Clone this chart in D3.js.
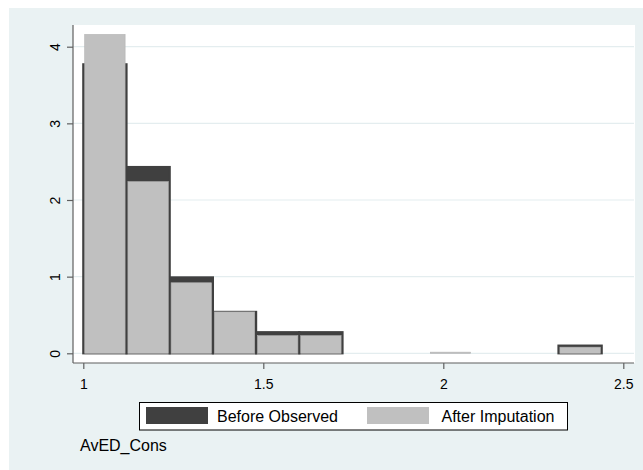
<!DOCTYPE html>
<html>
<head>
<meta charset="utf-8">
<script src="https://cdn.jsdelivr.net/npm/d3@7"></script>
<style>
  html, body { margin: 0; padding: 0; background: #ffffff; }
  svg { display: block; font-family: "Liberation Sans", Arial, Helvetica, sans-serif; }
</style>
</head>
<body>
<svg id="chart" width="643" height="470"></svg>
<script>
// Histogram bins of AvED_Cons (lower edges), common width
const binLower = [1.00, 1.12, 1.24, 1.36, 1.48, 1.60, 1.72, 1.84, 1.96, 2.08, 2.20, 2.32];
const binWidth = 0.12;
// Densities per bin
const observedDensity = [3.77, 2.43, 0.99, 0.54, 0.275, 0.275, 0, 0, 0, 0, 0, 0.10];
const imputedDensity  = [4.16, 2.24, 0.92, 0.54, 0.23, 0.23, 0, 0, 0.015, 0, 0, 0.08];
// Axis ticks and labels
const xTicks = [1, 1.5, 2, 2.5];
const yTicks = [0, 1, 2, 3, 4];
const seriesNames = ["Before Observed", "After Imputation"];
const xTitle = "AvED_Cons";

const svg = d3.select("#chart");
const W = 643, H = 470;

const colDark = "#404040";
const colLight = "#c0c0c0";
const bgGraph = "#eaf2f3";

// outer graph region
svg.append("rect").attr("x", 9).attr("y", 8).attr("width", W - 9).attr("height", H - 8).attr("fill", bgGraph);

// plot region
const plot = { left: 73, right: 635, top: 25, bottom: 363 };
svg.append("rect")
  .attr("x", plot.left).attr("y", plot.top)
  .attr("width", plot.right - plot.left).attr("height", plot.bottom - plot.top)
  .attr("fill", "#ffffff");

const x = d3.scaleLinear().domain([1, 2.5]).range([83.3, 623.3]);
const y = d3.scaleLinear().domain([0, 4]).range([353.3, 46.7]);

// gridlines
svg.append("g").selectAll("line").data(yTicks).join("line")
  .attr("x1", plot.left).attr("x2", plot.right - 1)
  .attr("y1", d => y(d)).attr("y2", d => y(d))
  .attr("stroke", "#e4edef").attr("stroke-width", 1.2);

const bins = binLower.map((lo, i) => ({ lo, hi: lo + binWidth, obs: observedDensity[i], imp: imputedDensity[i] }));

// observed bars (dark)
svg.append("g").selectAll("rect").data(bins.filter(d => d.obs > 0)).join("rect")
  .attr("x", d => x(d.lo)).attr("width", d => x(d.hi) - x(d.lo))
  .attr("y", d => y(d.obs)).attr("height", d => y(0) - y(d.obs))
  .attr("fill", colDark).attr("stroke", colDark).attr("stroke-width", 2.2);

// imputed bars (light), drawn on top
svg.append("g").selectAll("rect").data(bins.filter(d => d.imp > 0)).join("rect")
  .attr("x", d => x(d.lo) + 1.4).attr("width", d => x(d.hi) - x(d.lo) - 2.8)
  .attr("y", d => y(d.imp)).attr("height", d => y(0) - y(d.imp))
  .attr("fill", colLight).attr("stroke", "#b2b2b2").attr("stroke-width", 0.6);

// axes
const axisColor = "#5f5f5f";
const yAxis = svg.append("g").attr("transform", `translate(${plot.left},0)`)
  .call(d3.axisLeft(y).tickValues(yTicks).tickSize(6).tickSizeOuter(0).tickFormat(d3.format("d")));
yAxis.select(".domain").attr("d", `M0,${plot.top}V${plot.bottom}`);
yAxis.selectAll(".domain, .tick line").attr("stroke", axisColor).attr("stroke-width", 1.2);
yAxis.selectAll(".tick text")
  .attr("x", 0).attr("dy", 0)
  .attr("transform", "translate(-13,0) rotate(-90)")
  .attr("text-anchor", "middle")
  .attr("font-size", 14).attr("fill", "#000")
  .attr("font-family", null);

const xAxis = svg.append("g").attr("transform", `translate(0,${plot.bottom})`)
  .call(d3.axisBottom(x).tickValues(xTicks).tickSize(6).tickSizeOuter(0).tickFormat(d => d3.format("")(d)));
xAxis.select(".domain").attr("d", `M${plot.left},0H${plot.right - 1}`);
xAxis.selectAll(".domain, .tick line").attr("stroke", axisColor).attr("stroke-width", 1.2);
xAxis.selectAll(".tick text")
  .attr("y", 26).attr("dy", 0)
  .attr("font-size", 14).attr("fill", "#000")
  .attr("font-family", null);

// legend
const lg = svg.append("g");
lg.append("rect").attr("x", 139.5).attr("y", 402.5).attr("width", 428).attr("height", 27.5)
  .attr("fill", "#ffffff").attr("stroke", "#000").attr("stroke-width", 1);
const legendItems = [
  { name: seriesNames[0], color: colDark, sx: 146, tx: 217 },
  { name: seriesNames[1], color: colLight, sx: 367, tx: 441.5 }
];
legendItems.forEach(it => {
  lg.append("rect").attr("x", it.sx).attr("y", 407).attr("width", 62).attr("height", 17).attr("fill", it.color);
  lg.append("text").attr("x", it.tx).attr("y", 421.7).attr("font-size", 16).attr("fill", "#000").text(it.name);
});

// x title below legend
svg.append("text").attr("x", 80).attr("y", 451).attr("font-size", 16).attr("fill", "#000").text(xTitle);
</script>
</body>
</html>
